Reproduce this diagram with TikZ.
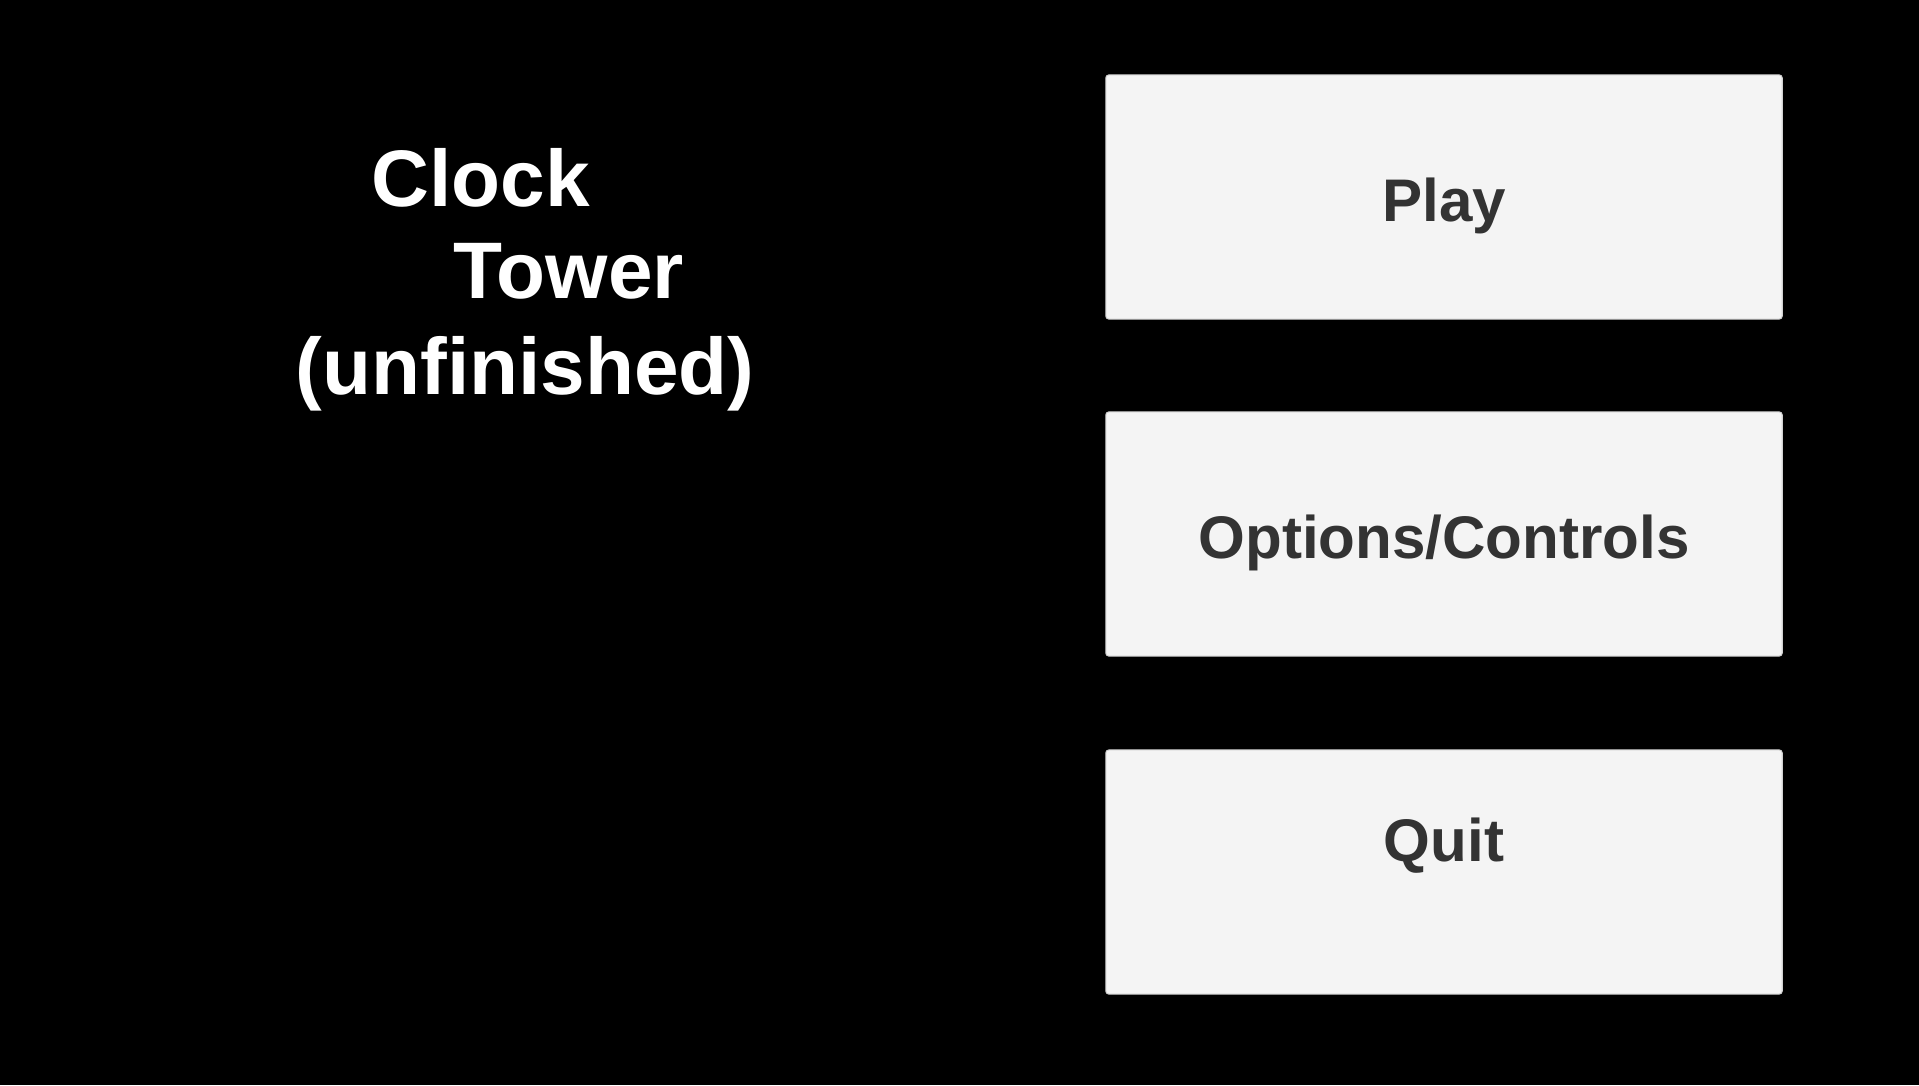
\documentclass[tikz,border=0pt]{standalone}
\usepackage{fontspec}
\setmainfont{Liberation Sans}
\usetikzlibrary{positioning}
\definecolor{buttonfill}{HTML}{F4F4F4}
\definecolor{buttonedge}{HTML}{D0D0D0}
\definecolor{buttontext}{HTML}{333333}
\begin{document}
\begin{tikzpicture}[
        x=0.01cm, y=-0.01cm,
        button/.style={rectangle, fill=buttonfill, draw=buttonedge, line width=0.3pt,
            rounded corners=0.03cm, minimum width=6.76cm, minimum height=2.44cm,
            inner sep=0pt, text height=0.48cm, text depth=0pt, text=buttontext,
            font=\fontsize{17.1pt}{20pt}\selectfont\bfseries},
        titleline/.style={anchor=base west, inner sep=0pt, text=white,
            font=\fontsize{22.8pt}{26pt}\selectfont\bfseries}
    ]
        % Background
        \fill[black] (0,0) rectangle (1919,1085);
        \useasboundingbox (0,0) rectangle (1919,1085);

        % Title
        \node[titleline] (clock) at (371,206) {Clock};
        \node[titleline] (tower) at (453,298) {Tower};
        \node[titleline] (unfinished) at (295,394) {(unfinished)};

        % Menu buttons
        \node[button] (play) at (1444,197) {Play};
        \node[button] (options) at (1444,534) {Options/Controls};
        \node[button] (quit) at (1444,872) {};
        \node[button, fill=none, draw=none, minimum width=0pt, minimum height=0pt,
            text height=, text depth=, anchor=base] (quitlabel) at (1444,861) {Quit};
    \end{tikzpicture}
\end{document}
